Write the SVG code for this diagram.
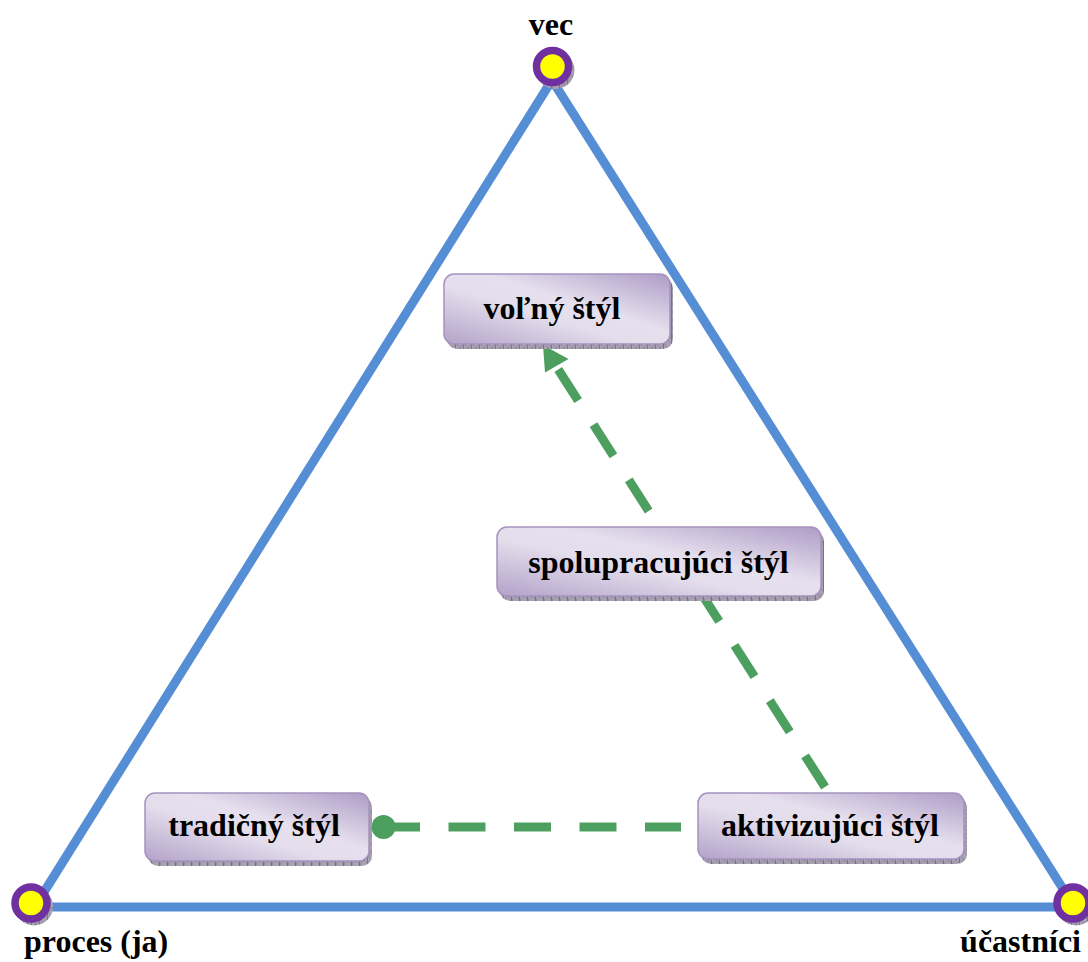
<svg xmlns="http://www.w3.org/2000/svg" width="1088" height="962" viewBox="0 0 1088 962">
  <defs>
    <linearGradient id="boxFill" x1="0" y1="1" x2="1" y2="0">
      <stop offset="0" stop-color="#B3A2C9"/>
      <stop offset="0.42" stop-color="#E4DEEC"/>
      <stop offset="0.58" stop-color="#E6E0EE"/>
      <stop offset="1" stop-color="#AE9CC6"/>
    </linearGradient>
    <pattern id="hatch" width="8" height="8" patternUnits="userSpaceOnUse">
      <rect width="8" height="8" fill="#A8A1B2"/>
      <path d="M0 0 L8 8 M8 0 L0 8" stroke="#8C8596" stroke-width="0.8"/>
      <path d="M7.5 0 V8" stroke="#6E6878" stroke-width="0.8"/>
    </pattern>
    <style>
      .edge { fill: none; stroke: #558ED5; stroke-width: 9; stroke-linejoin: miter; }
      .box { fill: url(#boxFill); stroke: #A592BE; stroke-width: 1.5; }
      .shadow { fill: url(#hatch); }
      .label { font-family: "Liberation Serif", "Times New Roman", serif; font-weight: bold; font-size: 32px; fill: #000; }
      .flow { fill: none; stroke: #4D9F60; stroke-width: 9; stroke-dasharray: 37 28.5; }
      .ring { fill: #FFFF00; stroke: #7030A0; stroke-width: 7.5; }
    </style>
  </defs>

  <rect width="1088" height="962" fill="#FFFFFF"/>

  <!-- the triangle frame -->
  <polygon class="edge" points="552,80 34.6,907 1074.5,907"/>

  <!-- corner markers -->
  <g id="corner-vec">
    <circle class="shadow" cx="555.5" cy="70" r="19"/>
    <circle class="ring" cx="552.5" cy="66.5" r="16"/>
    <text class="label" x="551" y="35" text-anchor="middle">vec</text>
  </g>
  <g id="corner-proces">
    <circle class="shadow" cx="34" cy="906.5" r="19"/>
    <circle class="ring" cx="31" cy="903" r="16"/>
    <text class="label" x="24" y="952">proces (ja)</text>
  </g>
  <g id="corner-ucastnici">
    <circle class="shadow" cx="1076" cy="906.5" r="19"/>
    <circle class="ring" cx="1073" cy="903" r="16"/>
    <text class="label" x="1081" y="952" text-anchor="end">účastníci</text>
  </g>

  <!-- connectors -->
  <g id="connectors">
    <path class="flow" d="M825 787 L556 366"/>
    <polygon points="543,345 568.5,359 545,372.5" fill="#4D9F60"/>
    <path class="flow" d="M383 827 L681 827" stroke-dasharray="36 28.5"/>
    <circle cx="383.5" cy="827" r="12" fill="#4D9F60"/>
  </g>

  <!-- style boxes -->
  <g id="volny">
    <rect class="shadow" x="447" y="278" width="226" height="71" rx="10"/>
    <rect class="box" x="444" y="274" width="226" height="70" rx="10"/>
    <text class="label" x="552" y="319" text-anchor="middle">voľný štýl</text>
  </g>
  <g id="spolupracujuci">
    <rect class="shadow" x="500" y="531" width="324" height="70" rx="10"/>
    <rect class="box" x="497" y="527" width="324" height="69" rx="10"/>
    <text class="label" x="658.5" y="573" text-anchor="middle">spolupracujúci štýl</text>
  </g>
  <g id="tradicny">
    <rect class="shadow" x="148" y="797" width="224" height="69" rx="10"/>
    <rect class="box" x="145" y="793" width="224" height="68" rx="10"/>
    <text class="label" x="254" y="836" text-anchor="middle">tradičný štýl</text>
  </g>
  <g id="aktivizujuci">
    <rect class="shadow" x="701" y="797" width="266" height="67" rx="10"/>
    <rect class="box" x="698" y="793" width="266" height="66" rx="10"/>
    <text class="label" x="830" y="836" text-anchor="middle">aktivizujúci štýl</text>
  </g>
</svg>
